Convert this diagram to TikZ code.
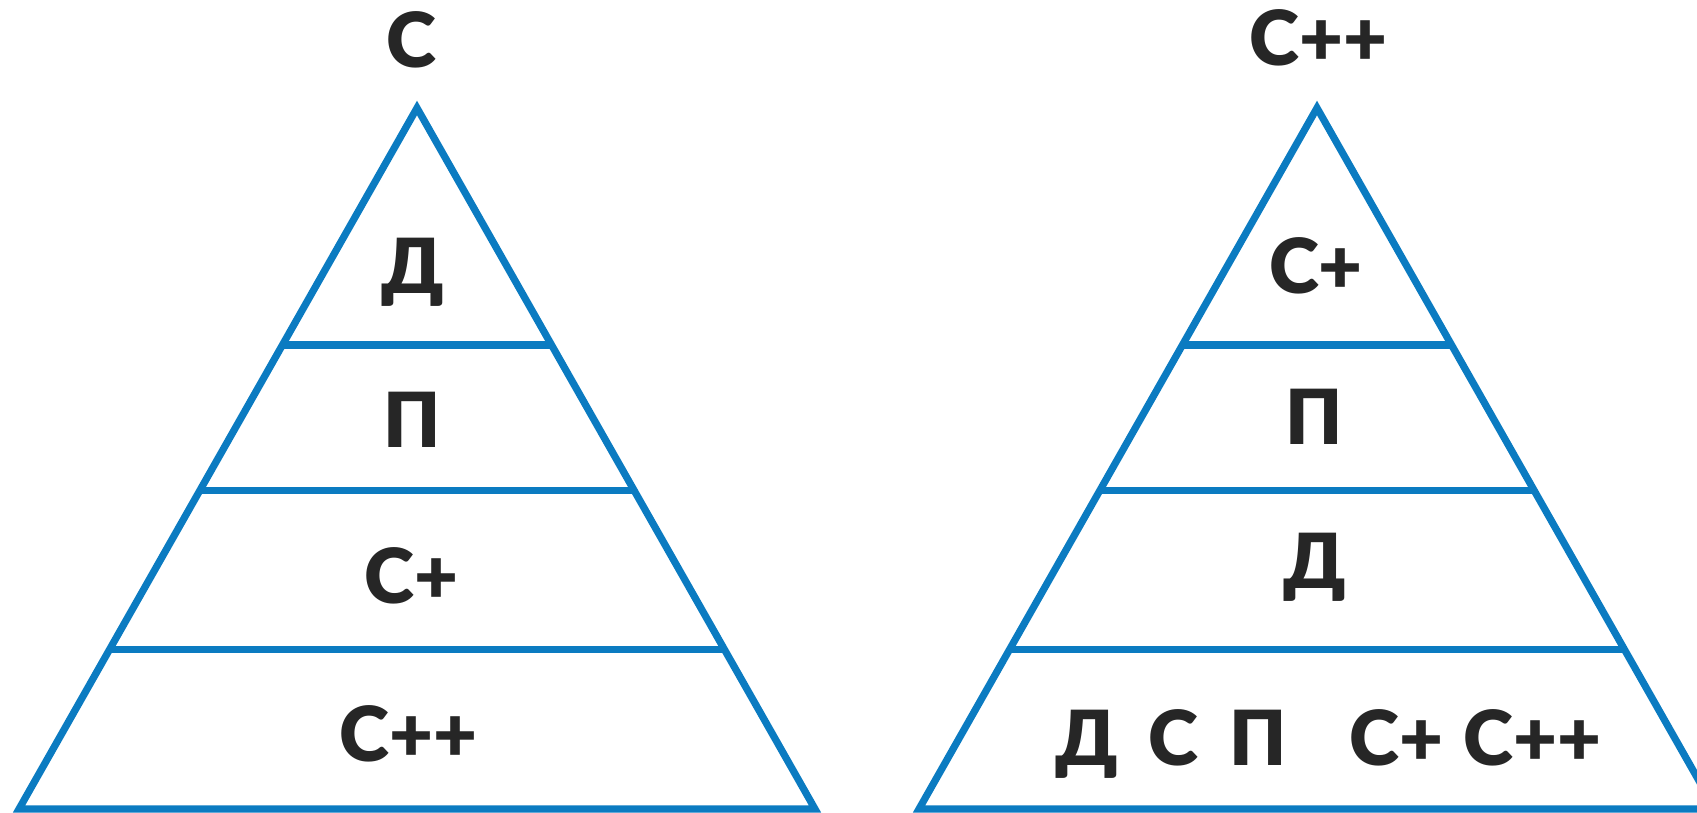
\documentclass[tikz,border=0pt]{standalone}
\usepackage{fontspec}
\IfFontExistsTF{Lato Black}
  {\setmainfont{Lato}[BoldFont={Lato Black}]}
  {\IfFontExistsTF{Fira Sans ExtraBold}
    {\setmainfont{Fira Sans}[BoldFont={Fira Sans ExtraBold}]}
    {\setmainfont{Open Sans}}}
\usetikzlibrary{calc}
\definecolor{pyrblue}{RGB}{11,123,193}
\definecolor{labelink}{RGB}{38,38,38}
\tikzset{
  edge/.style={draw=pyrblue, line width=5.4pt},
  lbl/.style={text=labelink, font=\fontsize{57}{68}\selectfont\bfseries, inner sep=0pt, anchor=base}
}
\begin{document}
\begin{tikzpicture}[x=0.75pt,y=0.75pt]
\useasboundingbox (0,0) rectangle (1697,813);
\clip (0,0) rectangle (1697,813);
% left pyramid
\coordinate (LA) at (417,705);
\coordinate (LL) at (19,4);
\coordinate (LR) at (815,4);
\draw[edge] (LA) -- (LL) -- (LR) -- cycle;
\draw[edge] ($(LA)!0.338!(LL)$) -- ($(LA)!0.338!(LR)$);
\draw[edge] ($(LA)!0.546!(LL)$) -- ($(LA)!0.546!(LR)$);
\draw[edge] ($(LA)!0.772!(LL)$) -- ($(LA)!0.772!(LR)$);
% right pyramid
\coordinate (RA) at (1317,705);
\coordinate (RL) at (919,4);
\coordinate (RR) at (1715,4);
\draw[edge] (RA) -- (RL) -- (RR) -- cycle;
\draw[edge] ($(RA)!0.338!(RL)$) -- ($(RA)!0.338!(RR)$);
\draw[edge] ($(RA)!0.546!(RL)$) -- ($(RA)!0.546!(RR)$);
\draw[edge] ($(RA)!0.772!(RL)$) -- ($(RA)!0.772!(RR)$);
% left labels
\node[lbl] (ltitle) at (411,745) {С};
\node[lbl] (l1) at (413,519) {Д};
\node[lbl] (l2) at (412,365) {П};
\node[lbl] (l3) at (411.5,209) {С+};
\node[lbl] (l4) at (408.5,51) {С++};
% right labels
\node[lbl] (rtitle) at (1318.5,747) {С++};
\node[lbl] (r1) at (1316,519) {С+};
\node[lbl] (r2) at (1314,368) {П};
\node[lbl] (r3) at (1315,224) {Д};
\node[lbl] (r4a) at (1087,47) {Д};
\node[lbl] (r4b) at (1173.5,47) {С};
\node[lbl] (r4c) at (1258.4,47) {П};
\node[lbl] (r4d) at (1396.5,47) {С+};
\node[lbl] (r4e) at (1532.6,47) {С++};
\end{tikzpicture}
\end{document}
